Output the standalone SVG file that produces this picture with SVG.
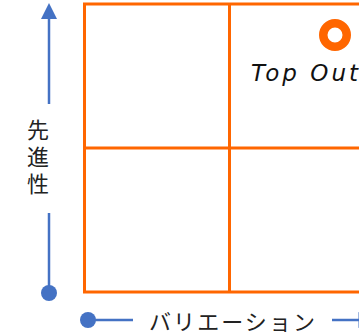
<svg xmlns="http://www.w3.org/2000/svg" width="359" height="335" viewBox="0 0 359 335">
<style>
.grid{fill:none;stroke:#FF6600;stroke-width:3}
.ax{stroke:#4472C4;stroke-width:2.5;fill:none}
.axf{fill:#4472C4}
.jp{font-family:"Noto Sans CJK JP","Noto Sans",sans-serif;font-size:22px;fill:#222}
</style>
<rect width="359" height="335" fill="#fff"/>
<g id="matrix">
<rect class="grid" x="84.5" y="4" width="290" height="288"/>
<line class="grid" x1="229.5" y1="4" x2="229.5" y2="292"/>
<line class="grid" x1="84.5" y1="148" x2="374.5" y2="148"/>
</g>
<g id="connectors">
<line class="ax" x1="49" y1="18" x2="49" y2="104"/>
<polygon class="axf" points="49,3 41,19 57,19"/>
<line class="ax" x1="49" y1="213" x2="49" y2="293"/>
<circle class="axf" cx="49" cy="293" r="8"/>
<circle class="axf" cx="88" cy="320" r="8"/>
<line class="ax" x1="88" y1="320" x2="133" y2="320"/>
<line class="ax" x1="332" y1="320" x2="360" y2="320"/>
<polygon class="axf" points="374,320 358.5,312 358.5,328"/>
</g>
<g id="y-label">
<text class="jp" x="38" y="119" style="writing-mode:vertical-rl;letter-spacing:5px">先進性</text>
</g>
<g id="x-label">
<text class="jp" x="149" y="330" textLength="166" lengthAdjust="spacing">バリエーション</text>
</g>
<g id="top-out">
<circle cx="335" cy="35" r="11.75" fill="none" stroke="#FF6600" stroke-width="8.5"/>
<text x="251" y="81" font-family="DejaVu Sans, sans-serif" font-style="italic" font-size="23" fill="#111" textLength="107" lengthAdjust="spacing">Top Out</text>
</g>
</svg>
